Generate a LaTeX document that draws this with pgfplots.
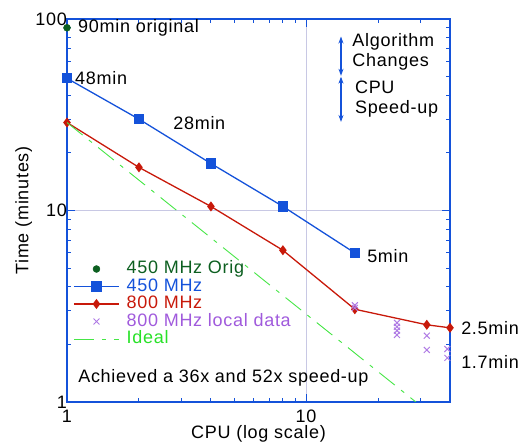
\documentclass[border=0pt]{standalone}
\usepackage{fontspec}
\setmainfont{Liberation Sans}[LetterSpace=4]
\usepackage{pgfplots}
\pgfplotsset{compat=1.18}
\usetikzlibrary{arrows.meta}
\definecolor{sblue}{RGB}{20,82,218}
\definecolor{sred}{RGB}{200,25,10}
\definecolor{sgreen}{RGB}{12,95,32}
\definecolor{spurple}{RGB}{160,90,220}
\definecolor{sxmark}{RGB}{175,122,228}
\definecolor{slime}{RGB}{70,230,70}
\definecolor{slimetext}{RGB}{40,225,40}
\definecolor{sgrid}{RGB}{200,200,228}
\pgfplotsset{
  marklegend/.style={legend image code/.code={\draw[##1] plot coordinates {(22.5pt,0pt)};}},
  linelegend/.style={legend image code/.code={\draw[mark repeat=2,mark phase=2,##1] plot coordinates {(0pt,0pt)(22.5pt,0pt)(45pt,0pt)};}},
}
\begin{document}
\fontsize{18}{20}\selectfont
\begin{tikzpicture}[font=\fontsize{18}{20}\selectfont]
\begin{axis}[
  xmode=log, ymode=log,
  scale only axis, width=383pt, height=383pt,
  xmin=1, xmax=40, ymin=1, ymax=100,
  clip mode=individual,
  xtick={1,10}, xticklabels={1,10},
  minor xtick={2,3,4,5,6,7,8,9,20,30},
  ytick={1,10,100},
  yticklabels={1\hspace{15pt},10\hspace{4pt},100\hspace{12pt}},
  minor ytick={2,3,4,5,6,7,8,9,20,30,40,50,60,70,80,90},
  /pgf/number format/assume math mode=true,
  xticklabel style={yshift=-2pt, font=\fontsize{18}{20}\selectfont},
  yticklabel style={inner sep=0pt, anchor=east, font=\fontsize{18}{20}\selectfont},
  axis line style={sblue, line width=1.3pt},
  every tick/.style={sblue, line width=1pt},
  major tick length=8pt, minor tick length=4.5pt,
  grid=major, major grid style={sgrid, line width=0.8pt},
  xlabel={CPU (log scale)},
  x label style={at={(axis description cs:0.5,-0.083)}, anchor=center},
  ylabel={Time (minutes)},
  y label style={at={(axis description cs:-0.113,0.5)}, anchor=center},
  legend cell align=left,
  legend style={at={(axis description cs:0.016,0.368)}, anchor=north west,
    draw=none, fill=none, font=\fontsize{18}{20}\selectfont,
    nodes={inner sep=0pt, text height=12.5pt, text depth=3pt},
    row sep=2pt, inner xsep=0pt, inner ysep=0pt},
]
\addplot[only marks, mark=*, sgreen, mark size=3.5pt, marklegend]
  coordinates {(1,90)};
\addlegendentry{\hspace{7pt}\textcolor{sgreen}{450 MHz Orig}}
\addplot[sblue, line width=1.3pt, mark=square*, mark size=4.5pt, linelegend]
  coordinates {(1,49)(2,30)(4,17.6)(8,10.5)(16,6)};
\addlegendentry{\hspace{7pt}\textcolor{sblue}{450 MHz}}
\addplot[sred, line width=1.3pt, mark=diamond*, mark size=4pt, linelegend]
  coordinates {(1,28.8)(2,16.8)(4,10.5)(8,6.2)(16,3.05)(32,2.53)(40,2.44)};
\addlegendentry{\hspace{7pt}\textcolor{sred}{800 MHz}}
\addplot[only marks, mark=x, sxmark, mark size=4.2pt, line width=1pt, marklegend]
  coordinates {(16,3.2)(16,3.1)(24,2.59)(24,2.47)(24,2.36)(24,2.24)(32,2.22)(32,1.87)(39,1.89)(39,1.70)};
\addlegendentry{\hspace{7pt}\textcolor{spurple}{800 MHz local data}}
\addplot[slime, line width=0.9pt, dash pattern=on 20pt off 8pt on 4pt off 8pt, linelegend]
  coordinates {(1,28.8)(28.8,1)};
\addlegendentry{\hspace{7pt}\textcolor{slimetext}{Ideal}}

\node[anchor=west, inner sep=0pt, xshift=11pt] at (axis cs:1,90) {90min original};
\node[anchor=west, inner sep=0pt, xshift=8pt] at (axis cs:1,49) {48min};
\node[anchor=west, inner sep=0pt] at (axis cs:2.78,28.5) {28min};
\node[anchor=west, inner sep=0pt] at (axis cs:18,5.8) {5min};
\node[anchor=west, inner sep=0pt] at (axis cs:44.5,2.44) {2.5min};
\node[anchor=west, inner sep=0pt] at (axis cs:44.5,1.62) {1.7min};
\node[anchor=west, inner sep=0pt] at (axis description cs:0.029,0.063) {Achieved a 36x and 52x speed-up};
\node[anchor=west, inner sep=0pt, align=left, font=\fontsize{18}{20}\selectfont] at (axis cs:15.6,67) {Algorithm\\Changes};
\node[anchor=west, inner sep=0pt, align=left, font=\fontsize{18}{20}\selectfont] at (axis cs:16,38.1) {CPU\\Speed-up};
\draw[sblue, line width=1.1pt, {Stealth[length=7pt,width=5pt]}-{Stealth[length=7pt,width=5pt]}] (axis cs:14,81) -- (axis cs:14,50.5);
\draw[sblue, line width=1.1pt, {Stealth[length=7pt,width=5pt]}-{Stealth[length=7pt,width=5pt]}] (axis cs:14,50) -- (axis cs:14,29);
\end{axis}
\pgfresetboundingbox
\path[use as bounding box] (-67pt,-40pt) rectangle (461pt,402pt);
\end{tikzpicture}
\end{document}
